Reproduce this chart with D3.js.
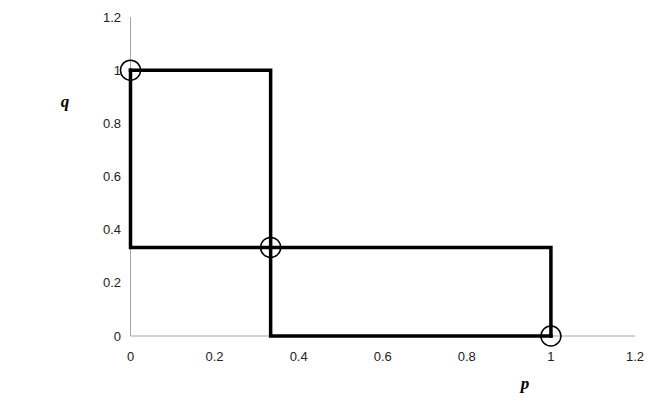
<!DOCTYPE html>
<html><head><meta charset="utf-8">
<script src="https://cdn.jsdelivr.net/npm/d3@7/dist/d3.min.js"></script>
<style>body{margin:0;background:#fff}</style>
</head><body>
<svg id="c" width="664" height="405"></svg>
<script>
const xTicks = [0, 0.2, 0.4, 0.6, 0.8, 1, 1.2];
const yTicks = [0, 0.2, 0.4, 0.6, 0.8, 1, 1.2];
const seriesA = [[0,1],[1/3,1],[1/3,0],[1,0]];
const seriesB = [[0,1],[0,1/3],[1,1/3],[1,0]];
const equilibria = [[0,1],[1/3,1/3],[1,0]];

const svg = d3.select("#c");
const x = d3.scaleLinear().domain([0,1.2]).range([130.5,635]);
const y = d3.scaleLinear().domain([0,1.2]).range([336,17]);

svg.append("line").attr("x1",x(0)).attr("x2",x(1.2)).attr("y1",y(0)).attr("y2",y(0)).attr("stroke","#a6a6a6").attr("stroke-width",1);
svg.append("line").attr("x1",x(0)).attr("x2",x(0)).attr("y1",y(0)).attr("y2",y(1.2)).attr("stroke","#a6a6a6").attr("stroke-width",1);

const fmt = d => d3.format("~g")(d);
svg.selectAll(".yt").data(yTicks).join("text").attr("x",121).attr("y",d=>y(d)+4.5)
  .attr("text-anchor","end").attr("font-family","Liberation Sans, Arial, sans-serif").attr("font-size",13).attr("fill","#222").text(fmt);
svg.selectAll(".xt").data(xTicks).join("text").attr("x",d=>x(d)).attr("y",360.5)
  .attr("text-anchor","middle").attr("font-family","Liberation Sans, Arial, sans-serif").attr("font-size",13).attr("fill","#222").text(fmt);

const line = d3.line().x(d=>x(d[0])).y(d=>y(d[1]));
[seriesA, seriesB].forEach(s=>{
  svg.append("path").attr("d",line(s)).attr("fill","none").attr("stroke","#000").attr("stroke-width",3.5).attr("stroke-linejoin","miter").attr("stroke-linecap","square");
});
svg.selectAll(".eq").data(equilibria).join("circle").attr("cx",d=>x(d[0])).attr("cy",d=>y(d[1])).attr("r",10)
  .attr("fill","none").attr("stroke","#000").attr("stroke-width",1.5);

svg.append("text").attr("x",525).attr("y",389).attr("text-anchor","middle").attr("font-family","Liberation Serif, Times New Roman, serif")
  .attr("font-style","italic").attr("font-weight","bold").attr("font-size",17).text("p");
svg.append("text").attr("x",65).attr("y",107).attr("text-anchor","middle").attr("font-family","Liberation Serif, Times New Roman, serif")
  .attr("font-style","italic").attr("font-weight","bold").attr("font-size",17).text("q");
</script>
</body></html>
